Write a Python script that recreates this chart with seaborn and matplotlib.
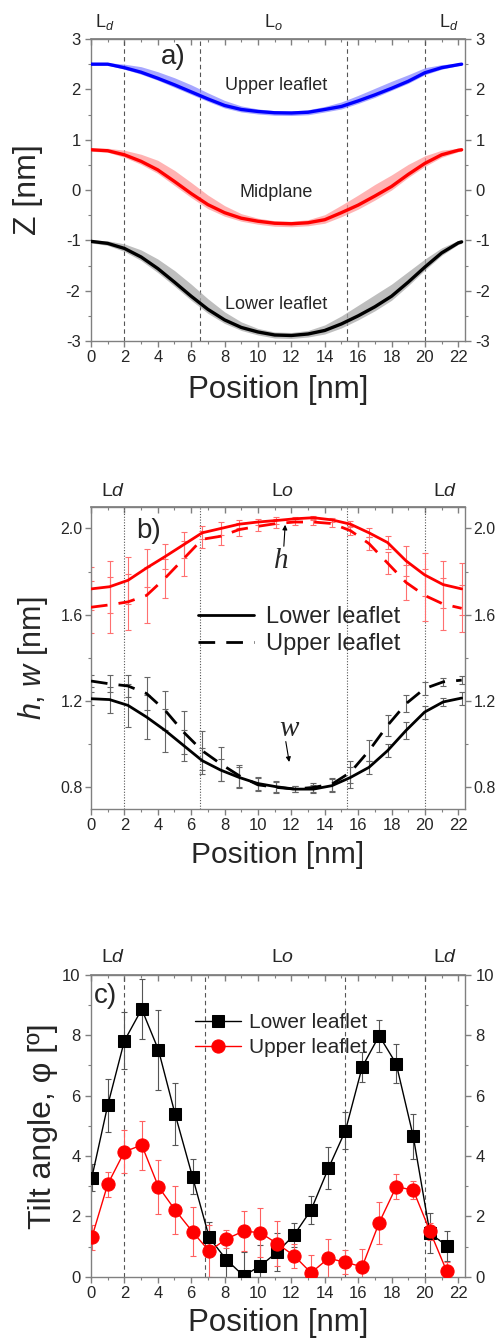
import matplotlib
matplotlib.use("Agg")
import matplotlib.pyplot as plt
import matplotlib.transforms as mtransforms
from matplotlib.ticker import MultipleLocator, FixedLocator
import seaborn as sns
import numpy as np

# ---------------- data ----------------
# Panel a: Z profiles
x_a = [0, 1, 2, 3, 4, 5, 6, 7, 8, 9, 10, 11, 12, 13, 14, 15, 16, 17, 18, 19, 20, 21, 22, 22.2]
upper_z = [2.50, 2.50, 2.43, 2.34, 2.22, 2.09, 1.95, 1.81, 1.68, 1.60, 1.56, 1.535, 1.53, 1.545,
           1.60, 1.66, 1.77, 1.89, 2.02, 2.16, 2.33, 2.43, 2.49, 2.50]
mid_z = [0.80, 0.78, 0.70, 0.57, 0.40, 0.17, -0.07, -0.29, -0.45, -0.56, -0.62, -0.66, -0.67, -0.65,
         -0.59, -0.45, -0.30, -0.12, 0.07, 0.31, 0.53, 0.70, 0.79, 0.80]
lower_z = [-1.02, -1.06, -1.16, -1.33, -1.56, -1.83, -2.11, -2.37, -2.58, -2.73, -2.82, -2.88, -2.89,
           -2.86, -2.79, -2.66, -2.50, -2.32, -2.11, -1.83, -1.53, -1.25, -1.05, -1.03]
upper_hi = [0.02, 0.03, 0.07, 0.11, 0.13, 0.14, 0.14, 0.12, 0.10, 0.07, 0.05, 0.04, 0.04, 0.05,
            0.06, 0.09, 0.11, 0.13, 0.14, 0.13, 0.10, 0.06, 0.03, 0.02]
upper_lo = [0.02, 0.02, 0.03, 0.04, 0.04, 0.05, 0.05, 0.05, 0.05, 0.05, 0.05, 0.05, 0.05, 0.05,
            0.05, 0.05, 0.05, 0.05, 0.04, 0.04, 0.04, 0.03, 0.02, 0.02]
mid_hi = [0.03, 0.05, 0.09, 0.14, 0.19, 0.22, 0.22, 0.19, 0.14, 0.09, 0.06, 0.05, 0.05, 0.06,
          0.10, 0.15, 0.20, 0.23, 0.23, 0.20, 0.15, 0.09, 0.04, 0.03]
mid_lo = [0.03, 0.03, 0.05, 0.06, 0.07, 0.08, 0.08, 0.08, 0.07, 0.06, 0.06, 0.06, 0.06, 0.06,
          0.07, 0.08, 0.08, 0.08, 0.07, 0.06, 0.06, 0.05, 0.03, 0.03]
lower_hi = [0.03, 0.05, 0.09, 0.14, 0.19, 0.23, 0.24, 0.21, 0.16, 0.11, 0.07, 0.06, 0.06, 0.07,
            0.11, 0.16, 0.21, 0.24, 0.24, 0.21, 0.16, 0.10, 0.05, 0.03]
lower_lo = [0.03, 0.04, 0.06, 0.07, 0.08, 0.08, 0.08, 0.08, 0.07, 0.06, 0.06, 0.06, 0.06, 0.06,
            0.07, 0.08, 0.08, 0.08, 0.08, 0.07, 0.06, 0.05, 0.03, 0.03]

# Panel b: h (thickness) and w
x_b = [0.0, 1.11, 2.22, 3.33, 4.44, 5.55, 6.66, 7.77, 8.88, 9.99, 11.1, 12.21, 13.32, 14.43,
       15.54, 16.65, 17.76, 18.87, 19.98, 21.09, 22.2]
h_lower = [1.72, 1.73, 1.76, 1.817, 1.87, 1.925, 1.98, 2.00, 2.02, 2.03, 2.037, 2.045, 2.05, 2.04,
           2.02, 1.98, 1.935, 1.85, 1.785, 1.74, 1.72]
h_upper = [1.635, 1.646, 1.66, 1.69, 1.77, 1.86, 1.95, 1.964, 1.995, 2.01, 2.023, 2.03, 2.03, 2.023,
           1.99, 1.93, 1.84, 1.75, 1.69, 1.65, 1.63]
w_lower = [1.211, 1.207, 1.18, 1.126, 1.064, 0.994, 0.924, 0.88, 0.846, 0.818, 0.803, 0.792, 0.792,
           0.808, 0.846, 0.893, 0.97, 1.064, 1.149, 1.196, 1.214]
w_upper = [1.293, 1.28, 1.27, 1.235, 1.157, 1.056, 0.97, 0.909, 0.854, 0.812, 0.80, 0.792, 0.80,
           0.815, 0.87, 0.97, 1.087, 1.188, 1.258, 1.289, 1.297]
h_lower_err = [0.10, 0.12, 0.11, 0.09, 0.06, 0.06, 0.03, 0.03, 0.02, 0.015, 0.015, 0.01, 0.01, 0.01,
               0.015, 0.02, 0.03, 0.07, 0.10, 0.11, 0.12]
h_upper_err = [0.12, 0.13, 0.13, 0.13, 0.09, 0.08, 0.04, 0.04, 0.03, 0.02, 0.02, 0.015, 0.015, 0.015,
               0.02, 0.03, 0.05, 0.08, 0.12, 0.12, 0.11]
w_lower_err = [0.03, 0.06, 0.10, 0.10, 0.10, 0.07, 0.06, 0.05, 0.05, 0.03, 0.025, 0.015, 0.02, 0.03,
               0.05, 0.03, 0.03, 0.04, 0.03, 0.02, 0.03]
w_upper_err = [0.03, 0.04, 0.05, 0.075, 0.09, 0.10, 0.09, 0.08, 0.05, 0.03, 0.025, 0.015, 0.02, 0.03,
               0.05, 0.05, 0.05, 0.04, 0.03, 0.02, 0.02]

# Panel c: tilt angle
x_c = [0.05, 1.0, 2.0, 3.04, 4.04, 5.04, 6.08, 7.08, 8.1, 9.14, 10.14, 11.14, 12.16, 13.18, 14.22,
       15.24, 16.24, 17.26, 18.28, 19.3, 20.3, 21.3]
tilt_lower = [3.28, 5.67, 7.81, 8.86, 7.51, 5.38, 3.31, 1.30, 0.57, 0.03, 0.36, 0.81, 1.38, 2.21, 3.59,
              4.84, 6.94, 7.98, 7.05, 4.65, 1.44, 1.03]
tilt_lower_err = [0.45, 0.87, 0.94, 1.0, 1.33, 1.03, 0.58, 0.5, 0.6, 0.8, 0.7, 0.63, 0.41, 0.48, 0.69,
                  0.61, 0.49, 0.53, 0.65, 0.74, 0.66, 0.5]
tilt_upper = [1.30, 3.06, 4.14, 4.36, 2.98, 2.21, 1.49, 0.85, 1.25, 1.51, 1.46, 1.10, 0.70, 0.13, 0.61,
              0.48, 0.33, 1.79, 2.98, 2.87, 1.51, 0.19]
tilt_upper_err = [0.4, 0.42, 0.72, 0.81, 0.89, 0.8, 0.81, 0.86, 0.3, 0.67, 0.81, 0.75, 0.4, 0.6, 0.64,
                  0.4, 0.6, 0.7, 0.42, 0.31, 0.28, 0.3]

# phase boundaries
bounds_a = [2.0, 6.55, 15.35, 20.0]
bounds_b = [2.0, 6.55, 15.35, 20.0]
bounds_c = [2.0, 6.84, 15.24, 20.0]
phase_labels_x_a = [0.84, 10.9, 21.4]
phase_labels_x_bc = [1.3, 11.5, 21.2]

# ---------------- style ----------------
sns.set_theme(style="ticks")
plt.rcParams["font.family"] = ["Liberation Sans", "DejaVu Sans"]
plt.rcParams["mathtext.fontset"] = "custom"
plt.rcParams["mathtext.rm"] = "Liberation Sans"
plt.rcParams["mathtext.it"] = "Liberation Sans:italic"
plt.rcParams["mathtext.default"] = "regular"
plt.rcParams["axes.unicode_minus"] = False

SPINE = "#808080"

fig = plt.figure(figsize=(4.95, 13.4), dpi=100)
L, W, H = 0.1838, 0.7556, 0.2254
ax_a = fig.add_axes([L, 0.7455, W, H])
ax_b = fig.add_axes([L, 0.3963, W, H])
ax_c = fig.add_axes([L, 0.0472, W, H])


def style(ax, ylim, ymajor, yminor, ticksize_y=12, ticksize_x=12, fmt=None, ypad=3):
    ax.set_xlim(0, 22.4)
    ax.set_ylim(*ylim)
    ax.xaxis.set_major_locator(MultipleLocator(2))
    ax.xaxis.set_minor_locator(MultipleLocator(1))
    ax.yaxis.set_major_locator(FixedLocator(ymajor))
    ax.yaxis.set_minor_locator(MultipleLocator(yminor))
    for s in ax.spines.values():
        s.set_color(SPINE)
        s.set_linewidth(1.0)
    ax.tick_params(axis="x", which="both", direction="out", color=SPINE, top=False,
                   labelsize=ticksize_x, pad=2)
    ax.tick_params(axis="y", which="both", direction="out", color=SPINE, left=True, right=True,
                   labelleft=True, labelright=True, labelsize=ticksize_y, pad=ypad)
    ax.tick_params(which="major", length=4.5, width=1.0)
    ax.tick_params(which="minor", length=2.5, width=0.8)
    if fmt is not None:
        ax.yaxis.set_major_formatter(fmt)
    sec = ax.secondary_xaxis("top")
    sec.xaxis.set_major_locator(MultipleLocator(2))
    sec.xaxis.set_minor_locator(MultipleLocator(1))
    sec.tick_params(which="both", direction="in", labeltop=False, color=SPINE)
    sec.tick_params(which="major", length=4.5, width=1.0)
    sec.tick_params(which="minor", length=2.5, width=0.8)
    sec.spines["top"].set_color(SPINE)


# ---------------- panel a ----------------
ax = ax_a
for xv in bounds_a:
    ax.axvline(xv, color="#555555", lw=0.8, ls=(0, (4, 3)), zorder=1)
xa = np.array(x_a)
for z, hi, lo, c, band in [(upper_z, upper_hi, upper_lo, "#0000ff", "#8a8aff"),
                           (mid_z, mid_hi, mid_lo, "#ff0000", "#ff9a9a"),
                           (lower_z, lower_hi, lower_lo, "#000000", "#a8a8a8")]:
    z = np.array(z)
    ax.fill_between(xa, z - np.array(lo), z + np.array(hi), color=band, alpha=0.75, lw=0, zorder=2)
    sns.lineplot(x=x_a, y=z, color=c, lw=2.4, ax=ax, zorder=3)
style(ax, (-3, 3), [-3, -2, -1, 0, 1, 2, 3], 0.5)
ax.set_xlabel("Position [nm]", fontsize=22.5)
ax.set_ylabel("Z [nm]", fontsize=23)
ax.text(11.1, 2.07, "Upper leaflet", fontsize=13, ha="center", va="center")
ax.text(11.1, -0.05, "Midplane", fontsize=13, ha="center", va="center")
ax.text(11.1, -2.27, "Lower leaflet", fontsize=13, ha="center", va="center")
ax.text(4.95, 2.65, "a)", fontsize=20, ha="center", va="center")
trans = mtransforms.blended_transform_factory(ax.transData, ax.transAxes)
for xv, s in zip(phase_labels_x_a, [r"L$_{\mathit{d}}$", r"L$_{\mathit{o}}$", r"L$_{\mathit{d}}$"]):
    ax.text(xv, 1.057, s, transform=trans, fontsize=13, ha="center", va="center")

# ---------------- panel b ----------------
ax = ax_b
for xv in bounds_b:
    ax.axvline(xv, color="#555555", lw=0.8, ls=(0, (1, 1.5)), zorder=1)
ax.errorbar(x_b, h_lower, yerr=h_lower_err, fmt="none", ecolor="#ff7070", elinewidth=0.8,
            capsize=2.5, capthick=0.8, zorder=2)
ax.errorbar(x_b, h_upper, yerr=h_upper_err, fmt="none", ecolor="#ff7070", elinewidth=0.8,
            capsize=2.5, capthick=0.8, zorder=2)
ax.errorbar(x_b, w_lower, yerr=w_lower_err, fmt="none", ecolor="#666666", elinewidth=0.8,
            capsize=2.5, capthick=0.8, zorder=2)
ax.errorbar(x_b, w_upper, yerr=w_upper_err, fmt="none", ecolor="#666666", elinewidth=0.8,
            capsize=2.5, capthick=0.8, zorder=2)
sns.lineplot(x=x_b, y=h_lower, color="#ff0000", lw=2.0, ax=ax, zorder=3)
l = sns.lineplot(x=x_b, y=h_upper, color="#ff0000", lw=2.0, ax=ax, zorder=3)
l.lines[-1].set_dashes((6, 4))
sns.lineplot(x=x_b, y=w_lower, color="#000000", lw=2.0, ax=ax, zorder=3, label="Lower leaflet")
l = sns.lineplot(x=x_b, y=w_upper, color="#000000", lw=2.0, ax=ax, zorder=3, label="Upper leaflet")
l.lines[-1].set_dashes((6, 4))
leg = ax.legend(loc="center left", bbox_to_anchor=(0.26, 0.59), frameon=False, fontsize=17,
                handlelength=2.4, handletextpad=0.5, labelspacing=0.2, borderaxespad=0)
leg.get_lines()[1].set_dashes((6, 4))
style(ax, (0.7, 2.1), [0.8, 1.2, 1.6, 2.0], 0.2, ticksize_y=11.5, ypad=1.5,
      fmt=matplotlib.ticker.FormatStrFormatter("%.1f"))
ax.set_xlabel("Position [nm]", fontsize=21.5)
ax.set_ylabel(r"$\mathit{h}$, $\mathit{w}$ [nm]", fontsize=22)
ax.text(3.44, 1.99, "b)", fontsize=20, ha="center", va="center")
ax.text(11.4, 1.85, "h", fontsize=21, family="Liberation Serif", style="italic",
        ha="center", va="center")
ax.annotate("", xy=(11.64, 2.03), xytext=(11.54, 1.905),
            arrowprops=dict(arrowstyle="-|>", lw=0.8, color="black", mutation_scale=7))
ax.text(11.84, 1.072, "w", fontsize=21, family="Liberation Serif", style="italic",
        ha="center", va="center")
ax.annotate("", xy=(11.9, 0.905), xytext=(11.64, 1.025),
            arrowprops=dict(arrowstyle="-|>", lw=0.8, color="black", mutation_scale=7))
trans = mtransforms.blended_transform_factory(ax.transData, ax.transAxes)
for xv, s in zip(phase_labels_x_bc, [r"L$\mathit{d}$", r"L$\mathit{o}$", r"L$\mathit{d}$"]):
    ax.text(xv, 1.05, s, transform=trans, fontsize=14, ha="center", va="center")

# ---------------- panel c ----------------
ax = ax_c
for xv in bounds_c:
    ax.axvline(xv, color="#555555", lw=0.8, ls=(0, (4, 3)), zorder=1)
ax.errorbar(x_c, tilt_lower, yerr=tilt_lower_err, fmt="none", ecolor="#555555", elinewidth=0.8,
            capsize=2.5, capthick=0.8, zorder=2)
ax.errorbar(x_c, tilt_upper, yerr=tilt_upper_err, fmt="none", ecolor="#ff6060", elinewidth=0.8,
            capsize=2.5, capthick=0.8, zorder=2)
sns.lineplot(x=x_c, y=tilt_lower, color="black", lw=1.0, marker="s", markersize=8.5,
             markeredgecolor="black", ax=ax, zorder=3, label="Lower leaflet")
sns.lineplot(x=x_c, y=tilt_upper, color="#ff0000", lw=1.0, marker="o", markersize=9.5,
             markeredgecolor="#ff0000", ax=ax, zorder=4, label="Upper leaflet")
ax.legend(loc="center left", bbox_to_anchor=(0.255, 0.80), frameon=False, fontsize=15,
          handlelength=2.2, handletextpad=0.4, labelspacing=0.3, borderaxespad=0)
style(ax, (0, 10), [0, 2, 4, 6, 8, 10], 1)
ax.set_xlabel("Position [nm]", fontsize=22.5)
ax.set_ylabel("Tilt angle, φ [º]", fontsize=23)
ax.text(0.84, 9.28, "c)", fontsize=20, ha="center", va="center")
trans = mtransforms.blended_transform_factory(ax.transData, ax.transAxes)
for xv, s in zip(phase_labels_x_bc, [r"L$\mathit{d}$", r"L$\mathit{o}$", r"L$\mathit{d}$"]):
    ax.text(xv, 1.056, s, transform=trans, fontsize=14, ha="center", va="center")

# label positions
for ax, ylx, xly in [(ax_a, -0.168, -0.162), (ax_b, -0.155, -0.152), (ax_c, -0.128, -0.153)]:
    ax.yaxis.label.set_va("center")
    ax.yaxis.set_label_coords(ylx, 0.5)
    ax.xaxis.label.set_va("center")
    ax.xaxis.set_label_coords(0.5, xly)

fig.savefig("out.png", dpi=100)
